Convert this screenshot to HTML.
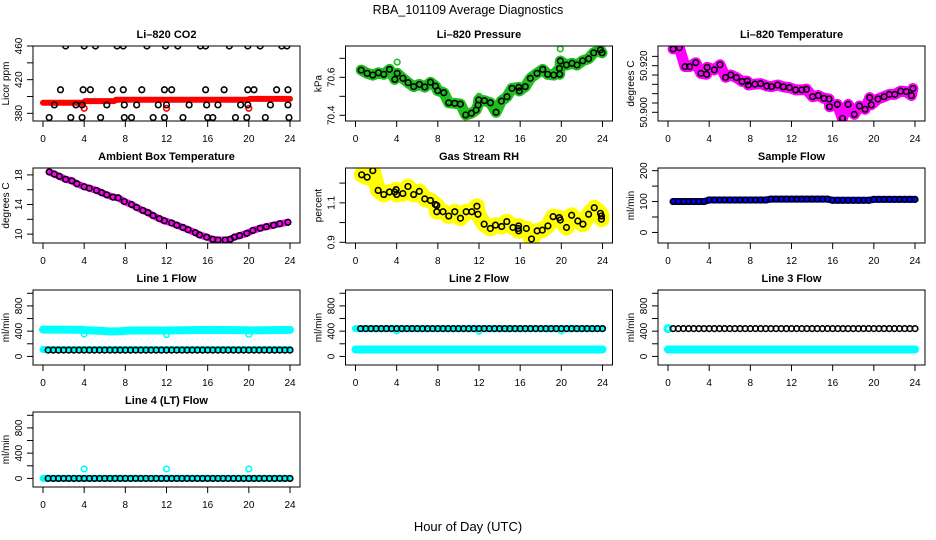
<!DOCTYPE html>
<html><head><meta charset="utf-8"><style>
html,body{margin:0;padding:0;background:#fff;}
svg{display:block;font-family:"Liberation Sans",sans-serif;}
</style></head><body>
<svg id="chart" width="936" height="540" viewBox="0 0 936 540" xmlns="http://www.w3.org/2000/svg">
<rect x="0" y="0" width="936" height="540" fill="#fff"/>
<text x="468" y="14" text-anchor="middle" font-size="12.5">RBA_101109  Average Diagnostics</text>
<text x="468" y="531" text-anchor="middle" font-size="13">Hour of Day (UTC)</text>
</svg>
<script>
// ---- data ----
const co2Hours = [2.2,4.0,5.1,7.2,7.8,10.1,11.9,13.1,15.3,15.8,18.1,19.9,21.1,23.2,23.7,
 1.7,3.9,4.6,6.7,7.8,9.6,11.8,12.5,15.8,17.6,19.9,20.5,22.7,23.8,
 1.1,3.2,3.8,6.2,7.9,9.1,11.2,12.0,14.2,15.9,17.0,19.2,19.9,22.1,23.8,
 0.6,2.7,3.8,5.6,7.9,8.6,10.7,11.8,13.6,16.0,16.5,18.7,19.8,21.6,23.9];
const co2Vals = [460,460,460,460,460,460,460,460,460,460,460,460,460,460,460,
 408,408,408,408,408,408,408,408,408,408,408,408,408,408,
 390,390,390,390,390,390,390,390,390,390,390,390,390,390,390,
 375,375,375,375,375,375,375,375,375,375,375,375,375,375,375];
const co2RedHours = [0,3.9,4.1,6.9,7.1,19.9,20.1,24];
const co2RedVals = [392.6,392.6,394.5,394.5,396.2,396.2,397.2,397.2];
const co2RedOutH = [4.0,12.0,20.0];
const co2RedOutV = [386,386,386];

const presHours = [0.55,1.13,1.68,2.23,2.75,3.30,3.82,4.05,4.60,5.11,5.66,6.21,6.73,7.28,7.77,7.99,8.58,9.06,9.64,10.19,10.71,11.26,11.72,11.91,11.97,12.52,13.11,13.66,14.17,14.72,15.21,15.86,15.92,16.50,16.99,17.64,18.19,18.67,19.26,19.81,19.84,19.90,20.49,21.04,21.52,22.07,22.65,23.14,23.79,23.95];
const presVals = [70.638,70.621,70.612,70.624,70.616,70.642,70.589,70.621,70.595,70.572,70.551,70.563,70.549,70.574,70.554,70.530,70.519,70.466,70.463,70.459,70.402,70.411,70.428,70.454,70.481,70.477,70.466,70.416,70.475,70.498,70.542,70.547,70.528,70.551,70.595,70.621,70.642,70.616,70.612,70.647,70.616,70.686,70.665,70.674,70.665,70.687,70.698,70.729,70.744,70.729];
const presOutH = [4.05,12.0,19.9];
const presOutV = [70.68,70.5,70.75];

const tempHours = [0.5,1.1,1.65,2.1,2.7,3.2,3.75,3.8,4.5,5.05,5.6,6.1,6.65,7.2,7.7,7.8,8.45,9.0,9.6,10.05,10.65,11.2,11.8,12.4,13.0,13.45,14.05,14.6,15.15,15.65,15.7,16.45,16.95,17.5,18.1,18.6,19.15,19.6,19.75,20.4,21.0,21.5,22.05,22.6,23.15,23.65,23.8];
const tempVals = [50.9272,50.9277,50.9196,50.9196,50.9213,50.9167,50.9163,50.9193,50.9182,50.9204,50.9150,50.9160,50.9149,50.9132,50.9134,50.9117,50.9121,50.9123,50.9113,50.9110,50.9117,50.9109,50.9106,50.9096,50.9096,50.9099,50.9067,50.9072,50.9060,50.9057,50.9024,50.9034,50.8974,50.9034,50.8991,50.9027,50.9013,50.9063,50.9032,50.9057,50.9067,50.9077,50.9077,50.9091,50.9089,50.9072,50.9102];

const ambHours = [0.6,1.1,1.6,2.2,2.8,3.3,4.0,4.5,5.2,5.7,6.2,6.8,7.3,7.9,8.6,9.1,9.7,10.2,10.7,11.3,11.8,12.5,13.0,13.6,14.1,14.8,15.2,15.9,16.5,17.0,17.7,18.2,18.6,19.1,19.8,20.4,21.1,21.7,22.4,23.0,23.8];
const ambVals = [18.4,18.1,17.8,17.4,17.2,16.8,16.4,16.2,15.9,15.6,15.3,15.0,14.9,14.4,14.0,13.6,13.2,12.9,12.5,12.1,11.8,11.5,11.2,10.9,10.6,10.2,9.9,9.6,9.3,9.2,9.2,9.3,9.6,9.8,10.1,10.5,10.8,11.0,11.2,11.4,11.6];

const rhHours = [0.6,1.13,1.68,2.2,2.75,3.3,3.8,3.95,4.0,4.6,5.1,5.65,6.2,6.73,7.28,7.75,7.9,7.9,8.5,9.06,9.65,10.2,10.75,11.3,11.8,11.9,12.5,13.1,13.6,14.2,14.7,15.3,15.8,15.85,15.85,16.6,17.1,17.65,18.15,18.7,19.2,19.8,19.9,20.5,21.0,21.6,22.1,22.65,23.2,23.8,23.9,23.9];
const rhVals = [1.242,1.230,1.263,1.163,1.142,1.155,1.155,1.167,1.142,1.147,1.183,1.142,1.158,1.120,1.112,1.092,1.087,1.055,1.055,1.033,1.055,1.022,1.055,1.055,1.083,1.042,0.992,0.970,0.987,0.980,1.005,0.975,0.970,0.983,0.958,0.970,0.917,0.958,0.962,0.983,1.030,1.025,1.013,0.975,1.037,1.008,0.992,1.042,1.075,1.047,1.017,1.033];

const sampleVals = [100,100,100,100,100,100,100,105,105,105,105,105,105,105,105,105,105,105,105,108,108,108,108,108,108,108,108,108,108,108,108,104,104,104,104,104,104,104,104,107,107,107,107,107,107,107,107,107];

const line1Black = [100,100,100,100,100,100,100,100,100,100,100,100,100,100,100,100,100,100,100,100,100,100,100,100,100,100,100,100,100,100,100,100,100,100,100,100,100,100,100,100,100,100,100,100,100,100,100,100];
const line1CyanHiH = [0,2,3.9,4.1,5.5,6.5,7.5,8.5,11.9,12.1,16,19.9,20.1,24];
const line1CyanHiV = [425,425,420,415,405,395,400,410,410,410,420,415,412,420];
const line1CyanLoH = [0,24];
const line1CyanLoV = [110,110];
const line1OutH = [4,12,20];
const line1OutV = [355,345,350];

const line2Black = [440,440,440,440,440,440,440,440,440,440,440,440,440,440,440,440,440,440,440,440,440,440,440,440,440,440,440,440,440,440,440,440,440,440,440,440,440,440,440,440,440,440,440,440,440,440,440,440];
const line2CyanHiH = [0,24];
const line2CyanHiV = [440,440];
const line2CyanLoH = [0,24];
const line2CyanLoV = [110,110];
const line2OutH = [4,12,20];
const line2OutV = [405,400,405];

const line3Black = [440,440,440,440,440,440,440,440,440,440,440,440,440,440,440,440,440,440,440,440,440,440,440,440,440,440,440,440,440,440,440,440,440,440,440,440,440,440,440,440,440,440,440,440,440,440,440,440];
const line3CyanLoH = [0,24];
const line3CyanLoV = [110,110];
const line3CyanStartH = [0];
const line3CyanStartV = [440];

const line4Black = [0,0,0,0,0,0,0,0,0,0,0,0,0,0,0,0,0,0,0,0,0,0,0,0,0,0,0,0,0,0,0,0,0,0,0,0,0,0,0,0,0,0,0,0,0,0,0,0];
const line4CyanH = [0,24];
const line4CyanV = [0,0];
const line4OutH = [4,12,20];
const line4OutV = [150,150,150];

const xTicks = [0,4,8,12,16,20,24];

// ---- drawing ----
const NS = "http://www.w3.org/2000/svg";
const svg = document.getElementById('chart');
function mk(tag, attrs, parent){
  const e = document.createElementNS(NS, tag);
  for (const k in attrs) e.setAttribute(k, attrs[k]);
  (parent||svg).appendChild(e);
  return e;
}
const halfHours = [];
for (let i = 1; i <= 48; i++) halfHours.push(i*0.5);

function panel(col, row, title, yTitle, yBot, yTop, yTicks, yLabels, key){
  const left = 33 + 312.5*col, top = 46 + 122*row, w = 267, h = 75;
  const g = mk('g', {});
  
  
  const X = v => left + 10 + v*(247/24);
  const Y = v => top + h - (v - yBot)/(yTop - yBot)*h;
  const t = mk('text', {x: left + w/2, y: top - 8, 'text-anchor':'middle', 'font-size':11, 'font-weight':'bold'}, g);
  t.textContent = title;
  
  
  const xa = mk('g', {}, g);
  
  
  mk('line', {x1:X(0), x2:X(24), y1:top+h, y2:top+h, stroke:'#000'}, xa);
  xTicks.forEach(v => {
    mk('line', {x1:X(v), x2:X(v), y1:top+h, y2:top+h+6, stroke:'#000'}, xa);
    const l = mk('text', {x:X(v), y:top+h+21, 'text-anchor':'middle', 'font-size':10}, xa);
    l.textContent = v;
    
    
  });
  const ya = mk('g', {}, g);
  
  
  mk('line', {x1:left, x2:left, y1:Y(yTicks[0]), y2:Y(yTicks[yTicks.length-1]), stroke:'#000'}, ya);
  yTicks.forEach(v => {
    mk('line', {x1:left-6, x2:left, y1:Y(v), y2:Y(v), stroke:'#000'}, ya);
  });
  yLabels.forEach(v => {
    const yy = Y(v), xx = left - 11;
    const l = mk('text', {x:xx, y:yy, 'text-anchor':'middle', 'font-size':10, transform:`rotate(-90 ${xx} ${yy})`}, ya);
    l.textContent = (typeof v === 'number' && key==='temp') ? v.toFixed(3) : v;
    
    
  });
  const yt = mk('text', {x:left-24, y:top+h/2, 'text-anchor':'middle', 'font-size':10, transform:`rotate(-90 ${left-24} ${top+h/2})`}, g);
  yt.textContent = yTitle;
  
  
  const clipId = 'clip-' + key;
  const cp = mk('clipPath', {id: clipId}, g);
  mk('rect', {x:left, y:top, width:w, height:h}, cp);
  const plot = mk('g', {'clip-path':`url(#${clipId})`}, g);
  
  
  const box = mk('rect', {x:left, y:top, width:w, height:h, fill:'none', stroke:'#000'}, g);
  
  
  return {X, Y, plot, key};
}
function band(p, hs, vs, color, width, name){
  const pts = hs.map((hh,i) => p.X(hh).toFixed(1) + ',' + p.Y(vs[i]).toFixed(1)).join(' ');
  const pl = mk('polyline', {points:pts, fill:'none', stroke:color, 'stroke-width':width, 'stroke-linejoin':'round', 'stroke-linecap':'round'}, p.plot);
  
  
}
function pts(p, hs, vs, color, name, r, sw){
  hs.forEach((hh,i) => {
    const c = mk('circle', {cx:p.X(hh), cy:p.Y(vs[i]), r:r||2.8, fill:'none', stroke:color, 'stroke-width':sw||1.6}, p.plot);
    
    
  });
}

let p = panel(0,0,'Li\u2013820 CO2','Licor ppm',370.9,460,[380,400,420,440,460],[380,420,460],'co2');
band(p, co2RedHours, co2RedVals, '#ff0000', 6, 'co2-red-band');
pts(p, co2RedOutH, co2RedOutV, '#ff0000', 'co2-red-point');
pts(p, co2Hours, co2Vals, '#000', 'co2-point');

p = panel(1,0,'Li\u2013820 Pressure','kPa',70.37,70.765,[70.4,70.5,70.6,70.7],[70.4,70.6],'pressure');
band(p, presHours, presVals, '#1fbf1f', 11, 'pressure-green-band');
pts(p, presOutH, presOutV, '#1fbf1f', 'pressure-green-point');
pts(p, presHours, presVals, '#000', 'pressure-point');

p = panel(2,0,'Li\u2013820 Temperature','degrees C',50.89627,50.92845,[50.900,50.904,50.908,50.912,50.916,50.920,50.924],[50.900,50.920],'temp');
band(p, tempHours, tempVals, '#ff00ff', 11, 'temp-magenta-band');
pts(p, tempHours, tempVals, '#000', 'temp-point');

p = panel(0,1,'Ambient Box Temperature','degrees C',8.8,18.93,[10,12,14,16,18],[10,14,18],'ambient');
band(p, ambHours, ambVals, '#ff00ff', 7, 'ambient-magenta-band');
pts(p, ambHours, ambVals, '#000', 'ambient-point');

p = panel(1,1,'Gas Stream RH','percent',0.8965,1.2765,[0.9,1.0,1.1,1.2],[0.9,1.1],'rh');
band(p, rhHours, rhVals, '#ffff00', 16, 'rh-yellow-band');
pts(p, rhHours, rhVals, '#000', 'rh-point');

p = panel(2,1,'Sample Flow','ml/min',-34.2,208.6,[0,50,100,150,200],[0,100,200],'sample-flow');
band(p, halfHours, sampleVals, '#0000ff', 7, 'sample-flow-blue-band');
pts(p, halfHours, sampleVals, '#000', 'sample-flow-point');

const flowTicks = [0,200,400,600,800,1000], flowLabels = [0,400,800];
p = panel(0,2,'Line 1 Flow','ml/min',-136,1052,flowTicks,flowLabels,'line1');
band(p, line1CyanHiH, line1CyanHiV, '#00ffff', 8, 'line1-cyan-high-band');
band(p, line1CyanLoH, line1CyanLoV, '#00ffff', 7, 'line1-cyan-low-band');
pts(p, line1OutH, line1OutV, '#00ffff', 'line1-cyan-point');
pts(p, halfHours, line1Black, '#000', 'line1-point');

p = panel(1,2,'Line 2 Flow','ml/min',-136,1052,flowTicks,flowLabels,'line2');
band(p, line2CyanLoH, line2CyanLoV, '#00ffff', 8, 'line2-cyan-low-band');
band(p, line2CyanHiH, line2CyanHiV, '#00ffff', 7, 'line2-cyan-high-band');
pts(p, line2OutH, line2OutV, '#00ffff', 'line2-cyan-point');
pts(p, halfHours, line2Black, '#000', 'line2-point');

p = panel(2,2,'Line 3 Flow','ml/min',-136,1052,flowTicks,flowLabels,'line3');
band(p, line3CyanLoH, line3CyanLoV, '#00ffff', 8, 'line3-cyan-low-band');
pts(p, line3CyanStartH, line3CyanStartV, '#00ffff', 'line3-cyan-point', 3, 3);
pts(p, halfHours, line3Black, '#000', 'line3-point');

p = panel(0,3,'Line 4 (LT) Flow','ml/min',-136,1052,flowTicks,flowLabels,'line4');
band(p, line4CyanH, line4CyanV, '#00ffff', 7, 'line4-cyan-band');
pts(p, line4OutH, line4OutV, '#00ffff', 'line4-cyan-point');
pts(p, halfHours, line4Black, '#000', 'line4-point');
</script>
</body></html>
